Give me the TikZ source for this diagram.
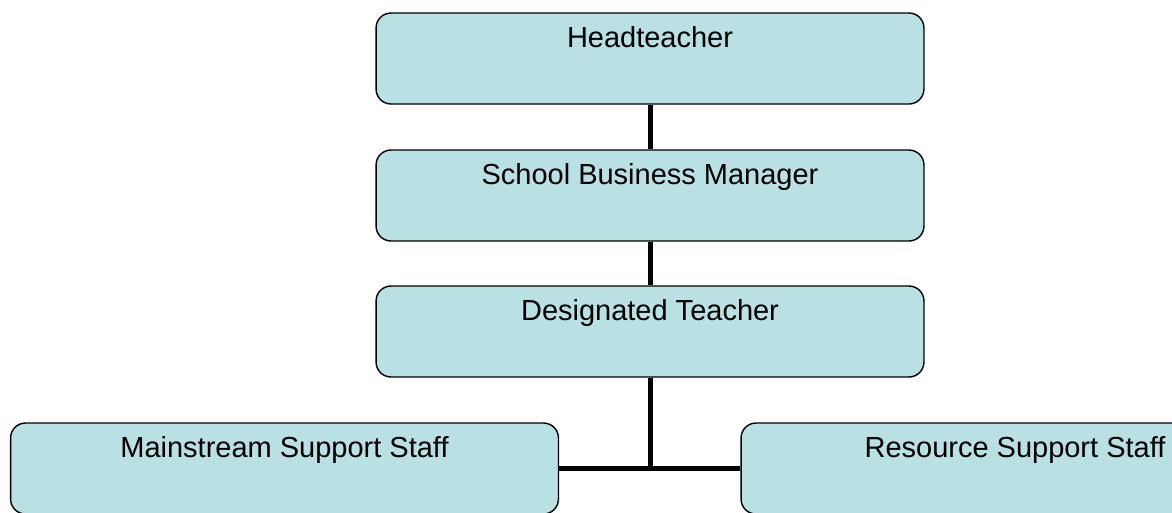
\documentclass[tikz,border=0pt]{standalone}
\usepackage{fontspec}
\setmainfont{Liberation Sans}
\usepackage{xcolor}
\definecolor{boxcyan}{RGB}{185,224,227}
\newcommand{\boxwid}{10.96cm}
\newcommand{\boxtop}{0.68cm}
\newcommand{\boxbot}{1.14cm}
\newcommand{\linkwidth}{2.85pt}

\begin{document}
\begin{tikzpicture}[x=0.02cm, y=-0.02cm,
        staffbox/.style={draw=black, line width=0.8pt, fill=boxcyan, rounded corners=0.3cm,
            minimum width=\boxwid, inner xsep=0pt, inner ysep=0pt,
            text height=\boxtop, text depth=\boxbot, font=\fontsize{16.5}{19}\selectfont},
        link/.style={line width=\linkwidth}]
        \useasboundingbox (0, 0) rectangle (1172, 512);
        \clip (0, 0) rectangle (1172, 512);

        % boxes
        \node[staffbox] (head) at (650, 58.5) {Headteacher};
        \node[staffbox] (sbm) at (650, 195.5) {School Business Manager};
        \node[staffbox] (dt) at (650, 331.5) {Designated Teacher};
        \node[staffbox] (mss) at (284.5, 468.5) {Mainstream Support Staff};
        \node[staffbox] (rss) at (1015, 468.5) {Resource Support Staff};

        % links
        \draw[link] (head.south) -- (sbm.north);
        \draw[link] (sbm.south) -- (dt.north);
        \draw[link] (dt.south) -- (dt.south |- mss.east);
        \draw[link] (mss.east) -- (rss.west);
    \end{tikzpicture}
\end{document}
